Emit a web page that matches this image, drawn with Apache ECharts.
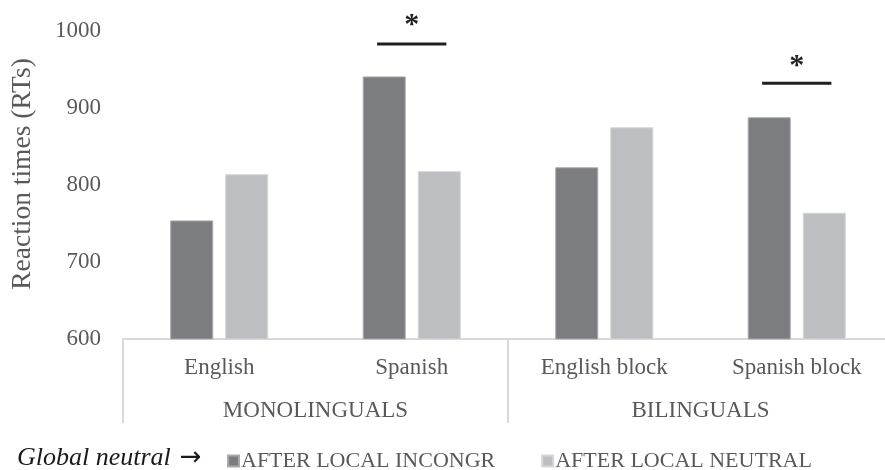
<!DOCTYPE html>
<html>
<head>
<meta charset="utf-8">
<script src="https://cdn.jsdelivr.net/npm/echarts@6/dist/echarts.min.js"></script>
<style>
  html, body { margin: 0; padding: 0; background: #fff; }
  #chart { width: 885px; height: 470px; }
</style>
</head>
<body>
<div id="chart"></div>
<script>
// Reaction times by language context and group
const categories = ['English', 'Spanish', 'English block', 'Spanish block'];
const groups = ['MONOLINGUALS', 'BILINGUALS'];
const seriesNames = ['AFTER LOCAL INCONGR', 'AFTER LOCAL NEUTRAL'];
const afterIncongr = [754, 941, 823, 888];
const afterNeutral = [814, 818, 875, 764];
const yTicks = { min: 600, max: 1000, step: 100 };

// Significance markers: category, height of the bracket, height of the star
const sigCategories = ['Spanish', 'Spanish block'];
const sigLineValues = [983, 932];
const sigStarValues = [1008, 954];

const serif = '"Liberation Serif", "DejaVu Serif", serif';
const textGray = '#595959';
const axisGray = '#d9d9d9';

const chart = echarts.init(document.getElementById('chart'), null, { renderer: 'canvas' });

const sigData = sigCategories.map((c, i) => [categories.indexOf(c), sigLineValues[i], sigStarValues[i]]);

chart.setOption({
  animation: false,
  backgroundColor: '#ffffff',
  title: {
    text: '{t|Global neutral} {a|\u2192}',
    left: 17,
    top: 445,
    padding: 0,
    textStyle: {
      fontWeight: 'normal',
      rich: {
        t: { fontFamily: serif, fontStyle: 'italic', fontWeight: 'normal', fontSize: 26, color: '#1a1a1a' },
        a: { fontFamily: '"DejaVu Sans", sans-serif', fontStyle: 'normal', fontWeight: 'normal', fontSize: 26, color: '#1a1a1a', padding: [0, 0, 0, 4] }
      }
    }
  },
  legend: {
    data: seriesNames,
    left: 227,
    top: 450,
    padding: 0,
    icon: 'rect',
    itemWidth: 11,
    itemHeight: 11,
    itemGap: 46,
    textStyle: { fontFamily: serif, fontSize: 22, color: textGray, padding: [0, 0, 0, -3] }
  },
  grid: { left: 123, top: 31, width: 770, bottom: 131, containLabel: false, outerBoundsMode: 'none' },
  xAxis: [
    {
      type: 'category',
      data: categories,
      position: 'bottom',
      axisLine: { show: true, lineStyle: { color: axisGray, width: 2 } },
      axisTick: { show: false },
      axisLabel: { fontFamily: serif, fontSize: 23, color: textGray, margin: 17 }
    },
    {
      type: 'category',
      data: groups,
      position: 'bottom',
      axisLine: { show: false },
      axisTick: { show: true, length: 84, interval: 0, lineStyle: { color: axisGray, width: 2 } },
      axisLabel: { fontFamily: serif, fontSize: 23, color: textGray, margin: 60 }
    }
  ],
  yAxis: {
    type: 'value',
    min: yTicks.min,
    max: yTicks.max,
    interval: yTicks.step,
    name: 'Reaction times (RTs)',
    nameLocation: 'middle',
    nameRotate: 90,
    nameGap: 86,
    nameTextStyle: { fontFamily: serif, fontSize: 27.5, color: textGray, padding: [0, 0, 0, 22] },
    axisLine: { show: false },
    axisTick: { show: false },
    splitLine: { show: false },
    axisLabel: {
      fontFamily: serif, fontSize: 23, color: textGray, margin: 22,
      formatter: function (v) { return String(v); }
    }
  },
  series: [
    {
      name: seriesNames[0],
      type: 'bar',
      data: afterIncongr,
      barWidth: 43,
      barGap: '28%',
      itemStyle: { color: '#7c7d81', borderColor: '#a9aaad', borderWidth: 1 }
    },
    {
      name: seriesNames[1],
      type: 'bar',
      data: afterNeutral,
      barWidth: 43,
      barGap: '28%',
      itemStyle: { color: '#bdbec2', borderColor: '#d6d7da', borderWidth: 1 }
    },
    {
      type: 'custom',
      data: sigData,
      clip: false,
      silent: true,
      z: 10,
      renderItem: function (params, api) {
        const lineP = api.coord([api.value(0), api.value(1)]);
        const starP = api.coord([api.value(0), api.value(2)]);
        const band = api.size([1, 0])[0];
        const half = band * 0.18;
        return {
          type: 'group',
          children: [
            {
              type: 'line',
              shape: { x1: lineP[0] - half, y1: lineP[1], x2: lineP[0] + half, y2: lineP[1] },
              style: { stroke: '#231f20', lineWidth: 3 }
            },
            {
              type: 'text',
              style: {
                text: '*',
                x: starP[0],
                y: starP[1],
                align: 'center',
                verticalAlign: 'middle',
                font: 'bold 30px "Liberation Serif", serif',
                fill: '#231f20'
              }
            }
          ]
        };
      }
    }
  ]
});
</script>
</body>
</html>
